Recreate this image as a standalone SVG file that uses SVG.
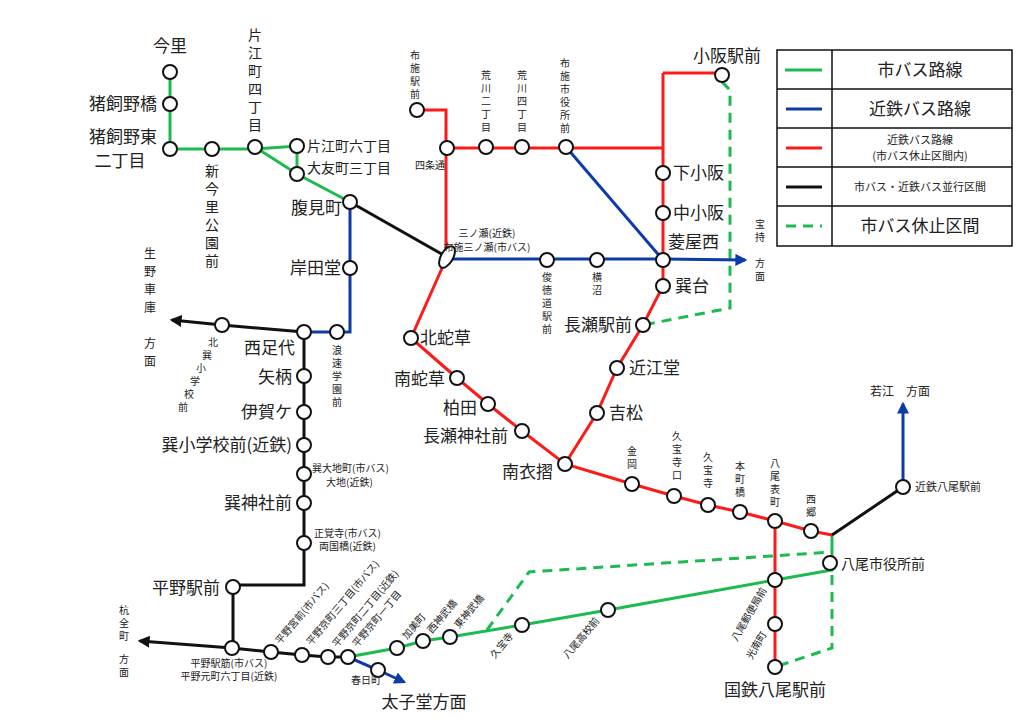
<svg xmlns="http://www.w3.org/2000/svg" width="1024" height="725" viewBox="0 0 1024 725">
<defs>
<style>
text{font-family:"Noto Sans CJK JP","Noto Sans",sans-serif;fill:#222}
.b{font-size:17px}.s{font-size:10px}.m{font-size:12px}.v13{font-size:14px}.l{font-size:14px}.ls{font-size:11px}
.vc{text-anchor:middle}
.g{stroke:#1dbb4f;stroke-width:3;fill:none}
.gd{stroke:#1dbb4f;stroke-width:3;fill:none;stroke-dasharray:10 7}
.bl{stroke:#0d3ca8;stroke-width:3;fill:none}
.r{stroke:#ff1a1a;stroke-width:3;fill:none}
.k{stroke:#111;stroke-width:3;fill:none}
.n{fill:#fff;stroke:#111;stroke-width:2}
</style>
<marker id="ab" viewBox="0 0 10 10" refX="8" refY="5" markerWidth="4" markerHeight="4" orient="auto"><path d="M0,0L10,5L0,10z" fill="#0d3ca8"/></marker>
<marker id="ak" viewBox="0 0 10 10" refX="8" refY="5" markerWidth="4" markerHeight="4" orient="auto"><path d="M0,0L10,5L0,10z" fill="#111"/></marker>
</defs>
<rect width="1024" height="725" fill="#fff"/>
<g id="connectors">
<path class="g" d="M170,72V149H255L297,146V174M255,147L297,174L350,202"/>
<path class="bl" d="M350,202V332H304"/>
<path class="k" d="M350,202L447,257"/>
<path class="k" d="M304,332L222,325L172,320" marker-end="url(#ak)"/>
<path class="k" d="M304,332V585H233V648"/>
<path class="k" d="M232,648L140,641" marker-end="url(#ak)"/>
<path class="k" d="M232,648L271,652L302,655L328,657L348,657"/>
<path class="g" d="M348,657L397,648L423,641L450,637L522,625L608,610L775,580L832,570V535"/>
<path class="bl" d="M348,657L378,670L404,682" marker-end="url(#ab)"/>
<path class="gd" d="M487,630L529,572L832,552"/>
<path class="gd" d="M832,575V648L775,667"/>
<path class="gd" d="M722,82L730,90V308L643,325"/>
<path class="r" d="M417,110H446V257M447,148H662M663,73H722M663,73V286L643,325L617,368L597,413L565,464M447,257L411,338L457,378L488,404L522,431L565,464L632,484L674,496L708,505L740,512L775,521L811,531L832,535M775,521V667"/>
<path class="k" d="M832,535L903,487"/>
<path class="bl" d="M903,487V404" marker-end="url(#ab)"/>
<path class="bl" d="M566,147L663,260M447,259H663L745,260" marker-end="url(#ab)"/>
</g>
<g id="nodes">
<circle class="n" cx="170" cy="72" r="7"/><circle class="n" cx="170" cy="104" r="7"/><circle class="n" cx="170" cy="149" r="7"/>
<circle class="n" cx="212" cy="149" r="7"/><circle class="n" cx="255" cy="147" r="7"/><circle class="n" cx="297" cy="146" r="7"/>
<circle class="n" cx="297" cy="174" r="7"/><circle class="n" cx="350" cy="202" r="7"/><circle class="n" cx="350" cy="268" r="7"/>
<circle class="n" cx="337" cy="332" r="7"/><circle class="n" cx="304" cy="332" r="7"/><circle class="n" cx="222" cy="325" r="7"/>
<circle class="n" cx="304" cy="376" r="7"/><circle class="n" cx="304" cy="412" r="7"/><circle class="n" cx="304" cy="445" r="7"/>
<circle class="n" cx="304" cy="474" r="7"/><circle class="n" cx="304" cy="503" r="7"/><circle class="n" cx="304" cy="543" r="7"/>
<circle class="n" cx="233" cy="587" r="7"/><circle class="n" cx="232" cy="648" r="7"/><circle class="n" cx="271" cy="652" r="7"/>
<circle class="n" cx="302" cy="655" r="7"/><circle class="n" cx="328" cy="657" r="7"/><circle class="n" cx="348" cy="657" r="7"/>
<circle class="n" cx="378" cy="670" r="7"/><circle class="n" cx="397" cy="648" r="7"/><circle class="n" cx="423" cy="641" r="7"/>
<circle class="n" cx="450" cy="637" r="7"/><circle class="n" cx="522" cy="625" r="7"/><circle class="n" cx="608" cy="610" r="7"/>
<circle class="n" cx="775" cy="580" r="7"/><circle class="n" cx="775" cy="624" r="7"/><circle class="n" cx="775" cy="667" r="7"/>
<circle class="n" cx="830" cy="563" r="7"/><circle class="n" cx="903" cy="487" r="7"/><circle class="n" cx="811" cy="531" r="7"/>
<circle class="n" cx="775" cy="521" r="7"/><circle class="n" cx="740" cy="512" r="7"/><circle class="n" cx="708" cy="505" r="7"/>
<circle class="n" cx="674" cy="496" r="7"/><circle class="n" cx="632" cy="484" r="7"/><circle class="n" cx="565" cy="464" r="7"/>
<circle class="n" cx="522" cy="431" r="7"/><circle class="n" cx="488" cy="404" r="7"/><circle class="n" cx="457" cy="378" r="7"/>
<circle class="n" cx="411" cy="338" r="7"/><circle class="n" cx="597" cy="413" r="7"/><circle class="n" cx="617" cy="368" r="7"/>
<circle class="n" cx="643" cy="325" r="7"/><circle class="n" cx="663" cy="286" r="7"/><circle class="n" cx="663" cy="260" r="7"/>
<circle class="n" cx="663" cy="213" r="7"/><circle class="n" cx="663" cy="173" r="7"/><circle class="n" cx="722" cy="75" r="7"/>
<circle class="n" cx="597" cy="260" r="7"/><circle class="n" cx="547" cy="260" r="7"/><circle class="n" cx="566" cy="147" r="7"/>
<circle class="n" cx="522" cy="147" r="7"/><circle class="n" cx="486" cy="147" r="7"/><circle class="n" cx="447" cy="148" r="7"/>
<circle class="n" cx="417" cy="110" r="7"/>
<ellipse class="n" cx="447" cy="257" rx="6" ry="12" transform="rotate(30 447 257)"/>
</g>
<g id="labels">
<text class="b" x="170" y="52" text-anchor="middle">今里</text>
<text class="b" x="157" y="110" text-anchor="end">猪飼野橋</text>
<text class="b" x="157" y="143" text-anchor="end">猪飼野東</text>
<text class="b" x="120" y="167" text-anchor="middle">二丁目</text>
<text class="v13 vc" x="212" y="176"><tspan x="212">新</tspan><tspan x="212" dy="18">今</tspan><tspan x="212" dy="18">里</tspan><tspan x="212" dy="18">公</tspan><tspan x="212" dy="18">園</tspan><tspan x="212" dy="18">前</tspan></text>
<text class="v13 vc" x="255" y="40"><tspan x="255">片</tspan><tspan x="255" dy="18">江</tspan><tspan x="255" dy="18">町</tspan><tspan x="255" dy="18">四</tspan><tspan x="255" dy="18">丁</tspan><tspan x="255" dy="18">目</tspan></text>
<text class="l" x="307" y="151">片江町六丁目</text>
<text class="l" x="307" y="173">大友町三丁目</text>
<text class="b" x="342" y="214" text-anchor="end">腹見町</text>
<text class="b" x="341" y="274" text-anchor="end">岸田堂</text>
<text class="s vc" x="337" y="354"><tspan x="337">浪</tspan><tspan x="337" dy="13">速</tspan><tspan x="337" dy="13">学</tspan><tspan x="337" dy="13">園</tspan><tspan x="337" dy="13">前</tspan></text>
<text class="m vc" x="150" y="258"><tspan x="150">生</tspan><tspan x="150" dy="18">野</tspan><tspan x="150" dy="18">車</tspan><tspan x="150" dy="18">庫</tspan><tspan x="150" dy="36">方</tspan><tspan x="150" dy="18">面</tspan></text>
<text class="s vc" x="213" y="346"><tspan x="213">北</tspan><tspan x="207" dy="13">巽</tspan><tspan x="201" dy="13">小</tspan><tspan x="195" dy="13">学</tspan><tspan x="189" dy="13">校</tspan><tspan x="183" dy="13">前</tspan></text>
<text class="b" x="295" y="354" text-anchor="end">西足代</text>
<text class="b" x="292" y="383" text-anchor="end">矢柄</text>
<text class="b" x="292" y="418" text-anchor="end">伊賀ケ</text>
<text class="b" x="292" y="451" text-anchor="end">巽小学校前(近鉄)</text>
<text class="s" x="312" y="472">巽大地町(市バス)</text>
<text class="s" x="326" y="486">大地(近鉄)</text>
<text class="b" x="292" y="509" text-anchor="end">巽神社前</text>
<text class="s" x="314" y="537">正覚寺(市バス)</text>
<text class="s" x="319" y="550">両国橋(近鉄)</text>
<text class="b" x="220" y="594" text-anchor="end">平野駅前</text>
<text class="s vc" x="124" y="614"><tspan x="124">杭</tspan><tspan x="124" dy="13">全</tspan><tspan x="124" dy="13">町</tspan><tspan x="124" dy="23">方</tspan><tspan x="124" dy="13">面</tspan></text>
<text class="s" x="229" y="667" text-anchor="middle">平野駅筋(市バス)</text>
<text class="s" x="229" y="680" text-anchor="middle">平野元町六丁目(近鉄)</text>
<text class="s" transform="translate(280,645) rotate(-50)">平野宮前(市バス)</text>
<text class="s" transform="translate(311,646) rotate(-50)">平野京町三丁目(市バス)</text>
<text class="s" transform="translate(337,648) rotate(-50)">平野京町二丁目(近鉄)</text>
<text class="s" transform="translate(357,648) rotate(-50)">平野京町一丁目</text>
<text class="s" transform="translate(407,640) rotate(-50)">加美町</text>
<text class="s" transform="translate(432,634) rotate(-50)">西神武橋</text>
<text class="s" transform="translate(459,629) rotate(-50)">東神武橋</text>
<text class="s" x="366" y="684" text-anchor="middle">春日町</text>
<text class="b" x="424" y="708" text-anchor="middle">太子堂方面</text>
<text class="s" transform="translate(514,636) rotate(-50)" text-anchor="end">久宝寺</text>
<text class="s" transform="translate(600,621) rotate(-50)" text-anchor="end">八尾高校前</text>
<text class="s" transform="translate(767,590) rotate(-60)" text-anchor="end">八尾郵便局前</text>
<text class="s" transform="translate(767,634) rotate(-60)" text-anchor="end">光南町</text>
<text class="b" x="775" y="696" text-anchor="middle">国鉄八尾駅前</text>
<text class="l" x="841" y="569">八尾市役所前</text>
<text class="ls" x="915" y="491">近鉄八尾駅前</text>
<text class="m" x="870" y="396">若江　方面</text>
<text class="s vc" x="811" y="503"><tspan x="811">西</tspan><tspan x="811" dy="13">郷</tspan></text>
<text class="s vc" x="775" y="467"><tspan x="775">八</tspan><tspan x="775" dy="13">尾</tspan><tspan x="775" dy="13">表</tspan><tspan x="775" dy="13">町</tspan></text>
<text class="s vc" x="740" y="470"><tspan x="740">本</tspan><tspan x="740" dy="13">町</tspan><tspan x="740" dy="13">橋</tspan></text>
<text class="s vc" x="708" y="461"><tspan x="708">久</tspan><tspan x="708" dy="13">宝</tspan><tspan x="708" dy="13">寺</tspan></text>
<text class="s vc" x="677" y="440"><tspan x="677">久</tspan><tspan x="677" dy="13">宝</tspan><tspan x="677" dy="13">寺</tspan><tspan x="677" dy="13">口</tspan></text>
<text class="s vc" x="632" y="455"><tspan x="632">金</tspan><tspan x="632" dy="13">岡</tspan></text>
<text class="b" x="553" y="478" text-anchor="end">南衣摺</text>
<text class="b" x="508" y="442" text-anchor="end">長瀬神社前</text>
<text class="b" x="477" y="414" text-anchor="end">柏田</text>
<text class="b" x="445" y="385" text-anchor="end">南蛇草</text>
<text class="b" x="420" y="344">北蛇草</text>
<text class="b" x="609" y="419">吉松</text>
<text class="b" x="629" y="374">近江堂</text>
<text class="b" x="632" y="331" text-anchor="end">長瀬駅前</text>
<text class="b" x="675" y="292">巽台</text>
<text class="b" x="668" y="248">菱屋西</text>
<text class="b" x="673" y="219">中小阪</text>
<text class="b" x="673" y="179">下小阪</text>
<text class="b" x="727" y="62" text-anchor="middle">小阪駅前</text>
<text class="s vc" x="760" y="228"><tspan x="760">宝</tspan><tspan x="760" dy="13">持</tspan><tspan x="760" dy="26">方</tspan><tspan x="760" dy="13">面</tspan></text>
<text class="s vc" x="547" y="281"><tspan x="547">俊</tspan><tspan x="547" dy="13">徳</tspan><tspan x="547" dy="13">道</tspan><tspan x="547" dy="13">駅</tspan><tspan x="547" dy="13">前</tspan></text>
<text class="s vc" x="597" y="281"><tspan x="597">横</tspan><tspan x="597" dy="13">沼</tspan></text>
<text class="s" x="487" y="237" text-anchor="middle">三ノ瀬(近鉄)</text>
<text class="s" x="487" y="251" text-anchor="middle">布施三ノ瀬(市バス)</text>
<text class="s" x="430" y="169" text-anchor="middle">四条通</text>
<text class="s vc" x="415" y="59"><tspan x="415">布</tspan><tspan x="415" dy="13">施</tspan><tspan x="415" dy="13">駅</tspan><tspan x="415" dy="13">前</tspan></text>
<text class="s vc" x="486" y="79"><tspan x="486">荒</tspan><tspan x="486" dy="13">川</tspan><tspan x="486" dy="13">二</tspan><tspan x="486" dy="13">丁</tspan><tspan x="486" dy="13">目</tspan></text>
<text class="s vc" x="522" y="79"><tspan x="522">荒</tspan><tspan x="522" dy="13">川</tspan><tspan x="522" dy="13">四</tspan><tspan x="522" dy="13">丁</tspan><tspan x="522" dy="13">目</tspan></text>
<text class="s vc" x="565" y="67"><tspan x="565">布</tspan><tspan x="565" dy="13">施</tspan><tspan x="565" dy="13">市</tspan><tspan x="565" dy="13">役</tspan><tspan x="565" dy="13">所</tspan><tspan x="565" dy="13">前</tspan></text>
</g>
<g id="legend">
<rect x="777" y="50" width="235" height="196" fill="#fff" stroke="#111" stroke-width="1.5"/>
<path d="M832,50V246M777,89H1012M777,128H1012M777,167H1012M777,206H1012" stroke="#111" stroke-width="1.5"/>
<path class="g" d="M785,70H822"/><path class="bl" d="M786,109H822"/><path class="r" d="M786,148H822"/><path class="k" d="M786,187H822"/><path class="gd" d="M786,226H822" stroke-dasharray="4 6 10 6"/>
<text class="b" x="920" y="76" text-anchor="middle">市バス路線</text>
<text class="b" x="920" y="115" text-anchor="middle">近鉄バス路線</text>
<text class="ls" x="920" y="144" text-anchor="middle">近鉄バス路線</text>
<text class="ls" x="920" y="160" text-anchor="middle">(市バス休止区間内)</text>
<text class="ls" x="920" y="191" text-anchor="middle">市バス・近鉄バス並行区間</text>
<text class="b" x="920" y="232" text-anchor="middle">市バス休止区間</text>
</g>
</svg>
